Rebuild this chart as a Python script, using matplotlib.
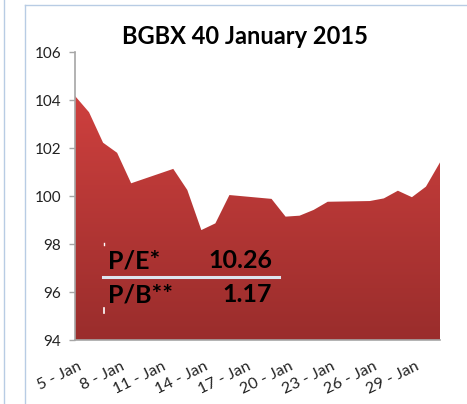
import numpy as np
import matplotlib
matplotlib.use("Agg")
import matplotlib.pyplot as plt
from matplotlib.colors import LinearSegmentedColormap
from matplotlib.lines import Line2D
from matplotlib.transforms import ScaledTranslation

# Data (day of January 2015, index value)
days = [5, 6, 7, 8, 9, 12, 13, 14, 15, 16, 19, 20, 21, 22, 23, 26, 27, 28, 29, 30, 31]
values = [104.17, 103.49, 102.22, 101.80, 100.53, 101.13, 100.25, 98.58, 98.86, 100.04,
          99.88, 99.14, 99.18, 99.42, 99.76, 99.79, 99.90, 100.22, 99.95, 100.39, 101.40]
tick_days = [5, 8, 11, 14, 17, 20, 23, 26, 29]
tick_labels = [f"{d} - Jan" for d in tick_days]
yticks = [94, 96, 98, 100, 102, 104, 106]
title = "BGBX 40 January 2015"
pe_label, pe_value = "P/E*", "10.26"
pb_label, pb_value = "P/B**", "1.17"

plt.rcParams['font.family'] = ['Lato', 'DejaVu Sans']

fig = plt.figure(figsize=(4.67, 4.04), dpi=100)
W, H = 467, 404
ax = fig.add_axes([75 / W, 1 - 340 / H, 365 / W, 288 / H])

ymin, ymax = 94, 106
ax.set_xlim(days[0], days[-1])
ax.set_ylim(ymin, ymax)

# Gradient-filled area
poly = ax.fill_between(days, values, ymin, color='none', lw=0)
cmap = LinearSegmentedColormap.from_list('red', ['#9a2d2c', '#ce403e'])
grad = np.linspace(0, 1, 256).reshape(-1, 1)
img = ax.imshow(grad, cmap=cmap, aspect='auto', origin='lower',
                extent=[days[0], days[-1], ymin, max(values)], zorder=2)
img.set_clip_path(poly.get_paths()[0], transform=ax.transData)

# Spines and ticks
for s in ['top', 'right']:
    ax.spines[s].set_visible(False)
ax.spines['left'].set_color('#a6a6a6')
ax.spines['bottom'].set_color('#a6a6a6')
ax.spines['left'].set_linewidth(1.2)
ax.spines['bottom'].set_linewidth(1.2)
ax.spines['left'].set_zorder(3)
ax.set_yticks(yticks)
ax.set_yticklabels([str(v) for v in yticks], fontsize=11, color='#222222')
ax.tick_params(axis='y', length=4, width=1, color='#a6a6a6', pad=6)
ax.set_xticks(tick_days)
ax.set_xticklabels(tick_labels, rotation=26, ha='right', va='top', rotation_mode='anchor',
                   fontsize=11.5, color='#222222')
ax.tick_params(axis='x', length=0, pad=14)
offset = ScaledTranslation(3 / 100, 0, fig.dpi_scale_trans)
for lbl in ax.get_xticklabels():
    lbl.set_transform(lbl.get_transform() + offset)

# Title
fig.text(245 / W, 1 - 37 / H, title, ha='center', va='center',
         fontsize=17, fontweight='bold', color='black')

# Text box with P/E and P/B
fs = 18
fig.text(108 / W, 1 - 261 / H, pe_label, ha='left', va='center',
         fontsize=fs, fontweight='bold', color='black')
fig.text(272 / W, 1 - 261 / H, pe_value, ha='right', va='center',
         fontsize=fs, fontweight='bold', color='black')
fig.text(108 / W, 1 - 295 / H, pb_label, ha='left', va='center',
         fontsize=fs, fontweight='bold', color='black')
fig.text(272 / W, 1 - 295 / H, pb_value, ha='right', va='center',
         fontsize=fs, fontweight='bold', color='black')
fig.add_artist(Line2D([103 / W, 279 / W], [1 - 277 / H, 1 - 277 / H],
                      color='#dde6f0', lw=2.2))
# small text-box handles
fig.add_artist(Line2D([104 / W, 104 / W], [1 - 243 / H, 1 - 245 / H], color='white', lw=1))
fig.add_artist(Line2D([104 / W, 104 / W], [1 - 308 / H, 1 - 313 / H], color='white', lw=1.2))

# Chart-area borders
bc = '#b8cce4'
fig.add_artist(Line2D([3.5 / W, 3.5 / W], [0, 1], color=bc, lw=1))
fig.add_artist(Line2D([25 / W, 25 / W], [0, 1 - 5 / H], color=bc, lw=1))
fig.add_artist(Line2D([25 / W, 1], [1 - 5 / H, 1 - 5 / H], color=bc, lw=1))

fig.savefig('out.png', dpi=100)
